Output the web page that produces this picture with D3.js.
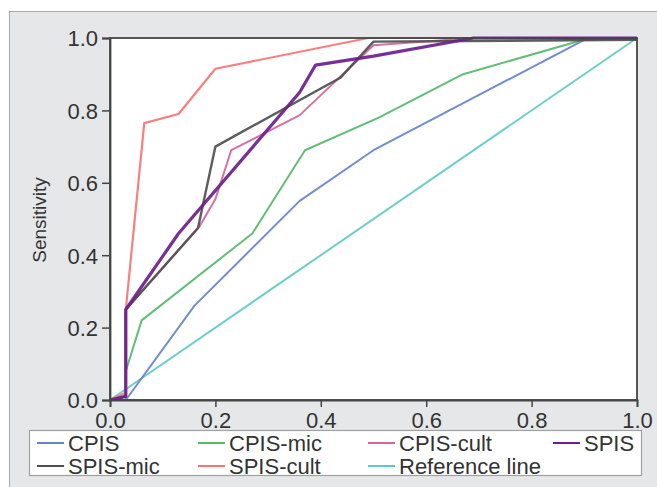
<!DOCTYPE html>
<html>
<head>
<meta charset="utf-8">
<script src="https://cdn.jsdelivr.net/npm/d3@7"></script>
<style>
  body { margin: 0; background: #fff; }
  svg { display: block; font-family: "Liberation Sans", Arial, sans-serif; }
</style>
</head>
<body>
<svg id="roc" width="657" height="487"></svg>
<script>
// ROC curves: [1 - specificity, sensitivity]
const cpis = [[0,0],[0.03,0.0],[0.16,0.26],[0.36,0.55],[0.5,0.69],[0.9,0.995],[1,1]];
const cpisMic = [[0,0],[0.03,0.0],[0.03,0.08],[0.06,0.22],[0.27,0.46],[0.37,0.69],[0.51,0.78],[0.67,0.9],[0.91,1],[1,1]];
const cpisCult = [[0,0],[0.03,0.01],[0.03,0.25],[0.17,0.48],[0.2,0.555],[0.23,0.69],[0.36,0.787],[0.5,0.98],[0.69,1],[1,1]];
const spis = [[0,0],[0.03,0.01],[0.03,0.25],[0.13,0.46],[0.36,0.85],[0.39,0.925],[0.5,0.95],[0.69,1],[1,1]];
const spisMic = [[0,0],[0.03,0.01],[0.03,0.25],[0.167,0.475],[0.2,0.7],[0.437,0.89],[0.5,0.99],[1,0.995]];
const spisCult = [[0,0],[0.03,0.02],[0.03,0.25],[0.065,0.765],[0.13,0.79],[0.2,0.915],[0.49,1],[1,1]];
const refLine = [[0,0],[1,1]];

const seriesNames = ["CPIS", "CPIS-mic", "CPIS-cult", "SPIS", "SPIS-mic", "SPIS-cult", "Reference line"];
const seriesData = [cpis, cpisMic, cpisCult, spis, spisMic, spisCult, refLine];
const seriesColors = ["#6683c9", "#55b86b", "#d4649e", "#6b1f8c", "#4f4f4f", "#f77474", "#5fc9c9"];
const seriesWidths = [2, 2, 2, 3.2, 2.4, 2.2, 2];
const ticks = [0, 0.2, 0.4, 0.6, 0.8, 1.0];

const svg = d3.select("#roc");
const plot = { left: 110, right: 637, top: 38, bottom: 400 };

// grey panel
svg.append("rect")
  .attr("x", 9.5).attr("y", 11.5)
  .attr("width", 660).attr("height", 490)
  .attr("fill", "#e6e7e8")
  .attr("stroke", "#a8a8a8");

svg.append("rect")
  .attr("x", plot.left).attr("y", plot.top)
  .attr("width", plot.right - plot.left).attr("height", plot.bottom - plot.top)
  .attr("fill", "#fff");

const x = d3.scaleLinear().domain([0, 1]).range([plot.left, plot.right]);
const y = d3.scaleLinear().domain([0, 1]).range([plot.bottom, plot.top]);

const line = d3.line().x(d => x(d[0])).y(d => y(d[1]));

const lines = svg.append("g");
// draw order: reference first, SPIS last on top
const order = [6, 0, 1, 2, 4, 5, 3];
order.forEach(i => {
  lines.append("path")
    .datum(seriesData[i])
    .attr("d", line)
    .attr("fill", "none")
    .attr("stroke", seriesColors[i])
    .attr("stroke-width", seriesWidths[i])
    .attr("stroke-linejoin", "round")
    .attr("opacity", 0.92);
});

// frame
svg.append("rect")
  .attr("x", plot.left).attr("y", plot.top)
  .attr("width", plot.right - plot.left).attr("height", plot.bottom - plot.top)
  .attr("fill", "none")
  .attr("stroke", "#454545")
  .attr("stroke-width", 1.8);

// Axes
const yAxis = svg.append("g")
  .attr("transform", `translate(${plot.left},0)`)
  .call(d3.axisLeft(y).tickValues(ticks).tickFormat(d3.format(".1f")).tickSize(8).tickPadding(4));
const xAxis = svg.append("g")
  .attr("transform", `translate(0,${plot.bottom})`)
  .call(d3.axisBottom(x).tickValues(ticks).tickFormat(d3.format(".1f")).tickSize(7).tickPadding(5));

[yAxis, xAxis].forEach(ax => {
  ax.select(".domain").attr("stroke", "#454545").attr("stroke-width", 1.8);
  ax.selectAll(".tick line").attr("stroke", "#454545").attr("stroke-width", 1.5);
  ax.selectAll(".tick text")
    .attr("fill", "#333")
    .style("font-size", "22px")
    .style("font-family", "'Liberation Sans', Arial, sans-serif");
});
yAxis.selectAll(".tick text").attr("dy", "0.36em");

svg.append("text")
  .attr("transform", "translate(46,220) rotate(-90)")
  .attr("text-anchor", "middle")
  .attr("fill", "#333")
  .style("font-size", "19px")
  .text("Sensitivity");

// Legend
const legend = svg.append("g");
legend.append("rect")
  .attr("x", 29.5).attr("y", 430.5)
  .attr("width", 612).attr("height", 45)
  .attr("fill", "#fff")
  .attr("stroke", "#a0a0a0")
  .attr("stroke-width", 1.2);

const colX = [37, 198, 368, 553];
const rowY = [443, 466];
seriesNames.forEach((name, i) => {
  const cx = colX[i % 4];
  const cy = rowY[Math.floor(i / 4)];
  legend.append("line")
    .attr("x1", cx).attr("x2", cx + 27)
    .attr("y1", cy).attr("y2", cy)
    .attr("stroke", seriesColors[i])
    .attr("stroke-width", 2);
  legend.append("text")
    .attr("x", cx + 31)
    .attr("y", cy + 8)
    .attr("fill", "#333")
    .style("font-size", "22px")
    .text(name);
});
</script>
</body>
</html>
